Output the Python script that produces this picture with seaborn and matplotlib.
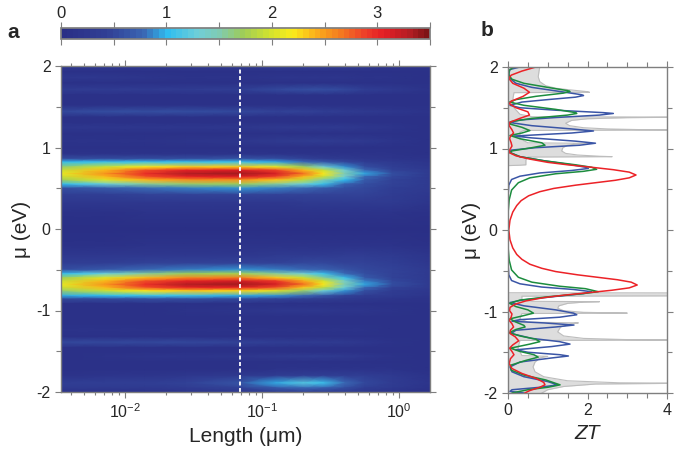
import numpy as np
import pandas as pd
import matplotlib
matplotlib.use("Agg")
import matplotlib.pyplot as plt
import seaborn as sns
from matplotlib.colors import LinearSegmentedColormap, Normalize
from matplotlib.ticker import MultipleLocator, FixedLocator

length_um = [0.0034, 0.0071, 0.014, 0.028, 0.069, 0.126, 0.2, 0.28, 0.4, 0.56, 0.89, 1.7]
mu_rows = [2.00, 1.93, 1.86, 1.79, 1.71, 1.64, 1.52, 1.44, 1.37, 1.31, 1.25, 1.17, 1.08, 1.00,
           0.92, 0.86, 0.82, 0.76, 0.72, 0.68, 0.64, 0.60, 0.55, 0.50, 0.42, 0.32, 0.20, 0.00,
           -0.20, -0.32, -0.42, -0.50, -0.55, -0.60, -0.64, -0.68, -0.72, -0.76, -0.82, -0.86,
           -0.92, -1.00, -1.08, -1.16, -1.24, -1.32, -1.39, -1.46, -1.51, -1.56, -1.63, -1.72,
           -1.80, -1.89, -1.95, -2.00]
zt_map = [
    [0.30, 0.30, 0.30, 0.30, 0.32, 0.38, 0.42, 0.42, 0.38, 0.30, 0.20, 0.12],
    [0.08, 0.08, 0.08, 0.08, 0.08, 0.08, 0.08, 0.08, 0.08, 0.08, 0.08, 0.08],
    [0.22, 0.22, 0.20, 0.16, 0.15, 0.18, 0.20, 0.20, 0.18, 0.15, 0.12, 0.08],
    [0.06, 0.06, 0.06, 0.06, 0.06, 0.06, 0.06, 0.06, 0.06, 0.06, 0.06, 0.06],
    [0.38, 0.38, 0.38, 0.38, 0.42, 0.52, 0.58, 0.58, 0.52, 0.42, 0.30, 0.15],
    [0.07, 0.07, 0.07, 0.07, 0.07, 0.07, 0.07, 0.07, 0.07, 0.07, 0.07, 0.07],
    [0.06, 0.06, 0.06, 0.06, 0.06, 0.06, 0.06, 0.06, 0.06, 0.06, 0.06, 0.06],
    [0.52, 0.55, 0.55, 0.55, 0.50, 0.48, 0.45, 0.42, 0.38, 0.32, 0.22, 0.12],
    [0.07, 0.07, 0.07, 0.07, 0.07, 0.07, 0.07, 0.07, 0.07, 0.07, 0.07, 0.07],
    [0.06, 0.06, 0.06, 0.06, 0.06, 0.06, 0.06, 0.06, 0.06, 0.06, 0.06, 0.06],
    [0.22, 0.22, 0.22, 0.24, 0.26, 0.30, 0.32, 0.30, 0.28, 0.24, 0.18, 0.10],
    [0.07, 0.07, 0.07, 0.07, 0.07, 0.07, 0.07, 0.07, 0.07, 0.07, 0.07, 0.07],
    [0.15, 0.15, 0.15, 0.18, 0.25, 0.32, 0.35, 0.35, 0.32, 0.28, 0.20, 0.10],
    [0.07, 0.07, 0.07, 0.07, 0.07, 0.07, 0.07, 0.07, 0.07, 0.07, 0.07, 0.07],
    [0.12, 0.12, 0.13, 0.14, 0.15, 0.14, 0.13, 0.12, 0.12, 0.12, 0.12, 0.10],
    [0.55, 0.55, 0.58, 0.60, 0.62, 0.55, 0.45, 0.38, 0.30, 0.25, 0.20, 0.15],
    [1.00, 1.05, 1.08, 1.08, 1.06, 0.98, 0.82, 0.66, 0.50, 0.40, 0.30, 0.20],
    [1.65, 1.95, 2.20, 2.35, 2.35, 2.10, 1.70, 1.35, 0.90, 0.60, 0.40, 0.26],
    [1.95, 2.40, 2.80, 3.05, 3.10, 2.85, 2.40, 1.95, 1.32, 0.82, 0.48, 0.30],
    [2.10, 2.55, 3.00, 3.30, 3.38, 3.12, 2.68, 2.22, 1.52, 0.98, 0.55, 0.32],
    [1.95, 2.40, 2.80, 3.05, 3.10, 2.85, 2.40, 1.95, 1.32, 0.82, 0.50, 0.32],
    [1.70, 2.05, 2.40, 2.55, 2.55, 2.30, 1.90, 1.50, 1.00, 0.68, 0.47, 0.32],
    [1.00, 1.28, 1.55, 1.68, 1.70, 1.55, 1.30, 1.05, 0.75, 0.55, 0.44, 0.32],
    [0.60, 0.70, 0.80, 0.85, 0.88, 0.85, 0.78, 0.70, 0.60, 0.52, 0.42, 0.30],
    [0.40, 0.42, 0.45, 0.45, 0.47, 0.47, 0.48, 0.48, 0.47, 0.44, 0.38, 0.26],
    [0.22, 0.24, 0.26, 0.25, 0.25, 0.26, 0.28, 0.30, 0.32, 0.32, 0.28, 0.18],
    [0.10, 0.10, 0.11, 0.11, 0.12, 0.12, 0.12, 0.14, 0.15, 0.15, 0.12, 0.10],
    [0.04, 0.04, 0.04, 0.04, 0.04, 0.04, 0.04, 0.04, 0.04, 0.04, 0.04, 0.04],
    [0.10, 0.10, 0.11, 0.11, 0.12, 0.12, 0.12, 0.14, 0.15, 0.15, 0.12, 0.10],
    [0.22, 0.24, 0.26, 0.26, 0.26, 0.28, 0.30, 0.32, 0.34, 0.34, 0.30, 0.20],
    [0.40, 0.42, 0.45, 0.46, 0.48, 0.48, 0.50, 0.50, 0.48, 0.46, 0.40, 0.27],
    [0.60, 0.70, 0.80, 0.85, 0.90, 0.86, 0.80, 0.72, 0.62, 0.54, 0.44, 0.31],
    [1.00, 1.28, 1.55, 1.70, 1.75, 1.58, 1.32, 1.08, 0.78, 0.58, 0.46, 0.32],
    [1.70, 2.05, 2.40, 2.60, 2.65, 2.35, 1.95, 1.55, 1.05, 0.70, 0.48, 0.32],
    [1.95, 2.40, 2.80, 3.05, 3.15, 2.90, 2.45, 2.00, 1.37, 0.84, 0.50, 0.32],
    [2.10, 2.55, 3.00, 3.30, 3.38, 3.12, 2.68, 2.22, 1.52, 0.98, 0.55, 0.32],
    [1.95, 2.40, 2.80, 3.05, 3.05, 2.80, 2.35, 1.90, 1.30, 0.82, 0.48, 0.30],
    [1.65, 1.95, 2.20, 2.30, 2.25, 2.05, 1.65, 1.30, 0.88, 0.58, 0.38, 0.25],
    [0.95, 1.02, 1.05, 1.05, 0.95, 0.90, 0.78, 0.62, 0.48, 0.38, 0.28, 0.18],
    [0.50, 0.52, 0.55, 0.55, 0.50, 0.48, 0.42, 0.36, 0.28, 0.22, 0.18, 0.12],
    [0.10, 0.10, 0.10, 0.10, 0.10, 0.10, 0.10, 0.10, 0.10, 0.10, 0.10, 0.08],
    [0.08, 0.08, 0.10, 0.15, 0.20, 0.22, 0.22, 0.22, 0.20, 0.18, 0.12, 0.08],
    [0.06, 0.06, 0.06, 0.06, 0.06, 0.06, 0.06, 0.06, 0.06, 0.06, 0.06, 0.06],
    [0.06, 0.06, 0.06, 0.06, 0.06, 0.06, 0.06, 0.06, 0.06, 0.06, 0.06, 0.06],
    [0.12, 0.12, 0.12, 0.12, 0.12, 0.14, 0.15, 0.15, 0.14, 0.12, 0.10, 0.06],
    [0.07, 0.07, 0.07, 0.07, 0.07, 0.07, 0.07, 0.07, 0.07, 0.07, 0.07, 0.07],
    [0.50, 0.52, 0.52, 0.50, 0.45, 0.40, 0.38, 0.36, 0.32, 0.25, 0.15, 0.10],
    [0.07, 0.07, 0.07, 0.07, 0.07, 0.07, 0.07, 0.07, 0.07, 0.07, 0.07, 0.07],
    [0.06, 0.06, 0.06, 0.06, 0.06, 0.06, 0.06, 0.06, 0.06, 0.06, 0.06, 0.06],
    [0.10, 0.15, 0.18, 0.20, 0.25, 0.32, 0.35, 0.35, 0.30, 0.22, 0.15, 0.08],
    [0.07, 0.07, 0.07, 0.07, 0.07, 0.07, 0.07, 0.07, 0.07, 0.07, 0.07, 0.07],
    [0.08, 0.08, 0.08, 0.08, 0.10, 0.12, 0.14, 0.15, 0.16, 0.16, 0.14, 0.10],
    [0.15, 0.18, 0.20, 0.22, 0.28, 0.38, 0.42, 0.42, 0.42, 0.40, 0.30, 0.15],
    [0.40, 0.42, 0.42, 0.45, 0.62, 0.98, 1.15, 1.08, 0.80, 0.50, 0.35, 0.20],
    [0.30, 0.30, 0.32, 0.35, 0.45, 0.68, 0.78, 0.72, 0.55, 0.40, 0.30, 0.15],
    [0.15, 0.15, 0.15, 0.18, 0.25, 0.30, 0.35, 0.32, 0.28, 0.22, 0.15, 0.10],
]
dashed_length = 0.069

# ---- panel b: ZT vs mu cuts
blue_mu = [2.0, 1.97, 1.92, 1.86, 1.80, 1.75, 1.70, 1.66, 1.65, 1.63, 1.60, 1.57, 1.53, 1.50, 1.47,
           1.44, 1.43, 1.41, 1.38, 1.35, 1.32, 1.28, 1.24, 1.215, 1.19, 1.153, 1.13, 1.09, 1.065,
           1.04, 1.01, 0.98, 0.95, 0.90, 0.85, 0.80, 0.77, 0.755, 0.73, 0.70, 0.66, 0.62, 0.55,
           0.40, 0.0, -0.40, -0.55, -0.62, -0.66, -0.70, -0.73, -0.757, -0.78, -0.82, -0.86,
           -0.89, -0.93, -0.98, -1.02, -1.04, -1.07, -1.10, -1.12, -1.14, -1.166, -1.19, -1.23,
           -1.27, -1.33, -1.37, -1.40, -1.43, -1.47, -1.50, -1.53, -1.546, -1.57, -1.62, -1.68,
           -1.74, -1.80, -1.86, -1.90, -1.93, -1.96, -1.98, -2.0]
blue_zt = [0.30, 0.05, 0.02, 0.05, 0.20, 0.60, 1.30, 1.85, 1.90, 1.70, 1.00, 0.35, 0.05, 0.30, 1.20,
           2.40, 2.65, 2.30, 1.20, 0.30, 0.03, 0.60, 1.60, 2.15, 1.60, 0.15, 0.60, 1.70, 2.20,
           1.80, 0.70, 0.08, 0.05, 0.30, 0.90, 1.60, 1.95, 2.02, 1.60, 0.80, 0.30, 0.09, 0.02,
           0.0, 0.0, 0.0, 0.02, 0.09, 0.30, 0.85, 1.65, 2.10, 1.90, 1.10, 0.35,
           0.05, 0.40, 1.20, 1.65, 1.73, 1.30, 0.30, 0.10, 0.90, 1.66, 1.20, 0.20,
           0.08, 0.60, 1.30, 1.56, 1.10, 0.20, 0.50, 1.30, 1.52, 1.10, 0.30, 0.05,
           0.10, 0.40, 1.00, 1.25, 0.80, 0.10, 0.05, 0.40]
green_mu = [2.0, 1.96, 1.90, 1.85, 1.80, 1.75, 1.71, 1.70, 1.68, 1.64, 1.60, 1.57, 1.53, 1.48, 1.44,
            1.43, 1.41, 1.37, 1.33, 1.30, 1.26, 1.22, 1.19, 1.16, 1.12, 1.07, 1.04, 1.01, 0.97,
            0.95, 0.90, 0.85, 0.80, 0.77, 0.745, 0.72, 0.69, 0.64, 0.58, 0.49, 0.37, 0.20, 0.0,
            -0.20, -0.37, -0.49, -0.58, -0.64, -0.69, -0.72, -0.757, -0.78, -0.82, -0.86, -0.90,
            -0.94, -0.98, -1.02, -1.05, -1.09, -1.13, -1.17, -1.19, -1.22, -1.26, -1.30, -1.34,
            -1.37, -1.40, -1.45, -1.49, -1.53, -1.56, -1.60, -1.66, -1.72, -1.78, -1.84, -1.90,
            -1.93, -1.96, -2.0]
green_zt = [0.15, 0.03, 0.02, 0.10, 0.40, 1.00, 1.50, 1.56, 1.40, 0.70, 0.20, 0.04, 0.40, 1.20, 1.70,
            1.73, 1.50, 0.60, 0.08, 0.05, 0.35, 0.55, 0.35, 0.05, 0.30, 0.85, 0.93, 0.60, 0.10,
            0.05, 0.30, 0.90, 1.70, 2.10, 2.23, 1.90, 1.20, 0.55, 0.26, 0.09, 0.03, 0.0, 0.0,
            0.0, 0.03, 0.09, 0.26, 0.60, 1.30, 1.95, 2.27, 1.90, 1.00, 0.30, 0.04,
            0.20, 0.50, 0.64, 0.40, 0.05, 0.20, 0.40, 0.43, 0.20, 0.03, 0.30, 0.70,
            0.80, 0.55, 0.06, 0.30, 0.65, 0.76, 0.45, 0.06, 0.08, 0.40, 0.95, 1.31,
            1.00, 0.50, 0.10]
red_mu = [2.0, 1.95, 1.90, 1.86, 1.80, 1.74, 1.69, 1.64, 1.58, 1.55, 1.50, 1.45, 1.41, 1.37, 1.32,
          1.28, 1.23, 1.19, 1.15, 1.12, 1.07, 1.03, 0.99, 0.95, 0.91, 0.87, 0.83, 0.80, 0.77, 0.74,
          0.71, 0.675, 0.64, 0.61, 0.58, 0.55, 0.51, 0.47, 0.42, 0.36, 0.30, 0.22, 0.12, 0.0,
          -0.12, -0.22, -0.30, -0.36, -0.42, -0.47, -0.51, -0.55, -0.58, -0.61, -0.64, -0.675,
          -0.71, -0.74, -0.77, -0.80, -0.83, -0.87, -0.91, -0.95, -0.99, -1.03, -1.07, -1.11,
          -1.15, -1.19, -1.23, -1.27, -1.31, -1.36, -1.41, -1.45, -1.49, -1.53, -1.58, -1.64,
          -1.70, -1.76, -1.82, -1.87, -1.90, -1.93, -1.97, -2.0]
red_zt = [0.70, 0.35, 0.08, 0.02, 0.12, 0.40, 0.54, 0.38, 0.08, 0.03, 0.20, 0.50, 0.54, 0.30, 0.04,
          0.03, 0.10, 0.14, 0.06, 0.04, 0.08, 0.10, 0.05, 0.03, 0.20, 0.55, 1.00, 1.50, 2.10, 2.65,
          3.05, 3.22, 3.05, 2.70, 2.20, 1.70, 1.15, 0.80, 0.52, 0.33, 0.22, 0.12, 0.05, 0.02,
          0.05, 0.12, 0.22, 0.35, 0.55, 0.85, 1.20, 1.75, 2.25, 2.75, 3.10, 3.25,
          3.05, 2.60, 2.00, 1.40, 0.90, 0.45, 0.18, 0.05, 0.04, 0.10, 0.08, 0.03,
          0.10, 0.14, 0.06, 0.05, 0.18, 0.27, 0.12, 0.04, 0.10, 0.15, 0.06, 0.03,
          0.10, 0.35, 0.70, 0.90, 0.93, 0.80, 0.55, 0.42]
gray_mu = [2.00, 1.95, 1.88, 1.82, 1.77, 1.74, 1.72, 1.70, 1.69, 1.685, 1.60, 1.50, 1.42, 1.39,
           1.385, 1.378, 1.365, 1.345, 1.31, 1.28, 1.255, 1.24, 1.232, 1.227, 1.222, 1.20, 1.12,
           1.07, 1.063, 1.055, 1.04, 1.01, 0.97, 0.94, 0.92, 0.905, 0.90, 0.895, 0.86, 0.80,
           0.795, 0.79, -0.77, -0.772, -0.808, -0.812, -0.86, -0.875, -0.88, -0.885, -0.90,
           -0.93, -0.96, -0.99, -1.01, -1.02, -1.025, -1.09, -1.13, -1.14, -1.15, -1.19, -1.25,
           -1.30, -1.33, -1.345, -1.35, -1.355, -1.45, -1.54, -1.55, -1.57, -1.62, -1.68, -1.74,
           -1.80, -1.85, -1.875, -1.88, -1.89, -1.92, -1.96, -2.00]
gray_zt = [0.80, 0.78, 0.76, 0.80, 0.95, 1.20, 1.55, 1.95, 2.05, 0.15, 0.12, 0.15, 0.30, 0.60,
           4.60, 3.00, 2.00, 1.60, 1.45, 1.55, 1.90, 2.50, 3.30, 4.60, 0.40, 0.30, 0.30,
           0.50, 2.00, 1.70, 1.50, 1.38, 1.35, 1.45, 1.75, 2.30, 2.62, 0.50, 0.45, 0.45,
           0.30, 0.0, 0.0, 4.60, 4.60, 0.35, 0.35, 0.60, 2.30, 1.90, 1.50,
           1.28, 1.25, 1.40, 1.90, 3.00, 0.35, 0.30, 0.50, 1.77, 1.60, 1.32, 1.25,
           1.40, 1.90, 3.00, 4.60, 0.30, 0.25, 0.35, 1.00, 0.80, 0.68, 0.63, 0.68,
           0.90, 1.50, 2.80, 4.60, 2.20, 1.40, 1.00, 0.85]

cbar_ticks = [0, 1, 2, 3]
zt_max = 3.5

# colours of the map, roughly the jet-like scale of the colour bar
cmap = LinearSegmentedColormap.from_list("zt", [
    (0.00, "#2a2f86"), (0.12, "#313f95"), (0.22, "#3a66b3"), (0.285, "#2fbdf0"),
    (0.37, "#70cfd8"), (0.43, "#80cbb0"), (0.49, "#9dcc5a"), (0.56, "#cde131"),
    (0.63, "#fbec1a"), (0.69, "#fbb21a"), (0.76, "#f47b20"), (0.83, "#ee3d2a"),
    (0.88, "#e31e25"), (0.95, "#b51d24"), (1.00, "#7f1416")], N=64)

sns.set_theme(style="ticks")
plt.rcParams["font.family"] = ["Liberation Sans", "DejaVu Sans"]
plt.rcParams["mathtext.fontset"] = "custom"
plt.rcParams["mathtext.rm"] = "Liberation Sans"
plt.rcParams["mathtext.it"] = "Liberation Sans:italic"
plt.rcParams["axes.unicode_minus"] = False

W, H = 679, 462
fig = plt.figure(figsize=(W / 100, H / 100), dpi=100)
ax_a = fig.add_axes([61 / W, 1 - 392 / H, 369 / W, 326 / H])
ax_b = fig.add_axes([508 / W, 1 - 393 / H, 159 / W, 326 / H])
cax = fig.add_axes([61 / W, 1 - 39 / H, 369 / W, 11 / H])

edge = "#7f7f7f"

# panel a
X, Y = np.meshgrid(length_um, mu_rows)
mesh = ax_a.pcolormesh(X, Y, np.array(zt_map), cmap=cmap, norm=Normalize(0, zt_max),
                       shading="gouraud", rasterized=True)
ax_a.set_xscale("log")
ax_a.set_xlim(0.0034, 1.68)
ax_a.set_ylim(-2, 2)
ax_a.axvline(dashed_length, color="white", lw=1.3, ls=(0, (2.2, 1.4)))
ax_a.yaxis.set_major_locator(FixedLocator([-2, -1, 0, 1, 2]))
ax_a.yaxis.set_minor_locator(MultipleLocator(0.5))
ax_a.set_xlabel("Length (μm)", fontsize=15)
ax_a.set_ylabel("μ (eV)", fontsize=15, labelpad=4)

# panel b
ax_b.fill_betweenx(gray_mu, 0, gray_zt, color="#dddddd", lw=0)
ax_b.plot(gray_zt, gray_mu, color="#bdbdbd", lw=0.8)
curves = pd.concat([
    pd.DataFrame({"mu": blue_mu, "ZT": blue_zt, "cut": "blue"}),
    pd.DataFrame({"mu": green_mu, "ZT": green_zt, "cut": "green"}),
    pd.DataFrame({"mu": red_mu, "ZT": red_zt, "cut": "red"}),
])
sns.lineplot(data=curves, x="ZT", y="mu", hue="cut", orient="y", sort=False, estimator=None,
             palette={"blue": "#3a55a6", "green": "#1c8c3e", "red": "#ec2227"},
             lw=1.1, legend=False, ax=ax_b)
ax_b.set_xlim(0, 4)
ax_b.set_ylim(-2, 2)
ax_b.xaxis.set_major_locator(FixedLocator([0, 2, 4]))
ax_b.xaxis.set_minor_locator(MultipleLocator(0.5))
ax_b.yaxis.set_major_locator(FixedLocator([-2, -1, 0, 1, 2]))
ax_b.yaxis.set_minor_locator(MultipleLocator(0.5))
ax_b.set_xlabel("ZT", fontsize=15, fontstyle="italic")
ax_b.set_ylabel("μ (eV)", fontsize=15, labelpad=2)

for ax in (ax_a, ax_b):
    for sp in ax.spines.values():
        sp.set_visible(True)
        sp.set_color(edge)
        sp.set_linewidth(1.0)
    ax.tick_params(which="both", direction="out", color=edge, top=True, right=True,
                   labelsize=11.5, width=0.8)
    ax.tick_params(which="major", length=4)
    ax.tick_params(which="minor", length=3.5)
ax_a.tick_params(axis="x", which="minor", length=2.5)

# colour bar
cb = fig.colorbar(mesh, cax=cax, orientation="horizontal")
cb.outline.set_edgecolor(edge)
cb.set_ticks(cbar_ticks)
cax.xaxis.set_ticks_position("both")
cax.xaxis.set_minor_locator(MultipleLocator(0.5))
cax.tick_params(which="both", direction="out", length=4, color=edge, width=0.8,
                labeltop=True, labelbottom=False, labelsize=12, pad=1)

fig.text(13 / W, 1 - 33 / H, "a", fontsize=15, fontweight="bold", ha="center", va="center")
fig.text(487 / W, 1 - 31 / H, "b", fontsize=15, fontweight="bold", ha="center", va="center")

fig.savefig("out.png", dpi=100)
